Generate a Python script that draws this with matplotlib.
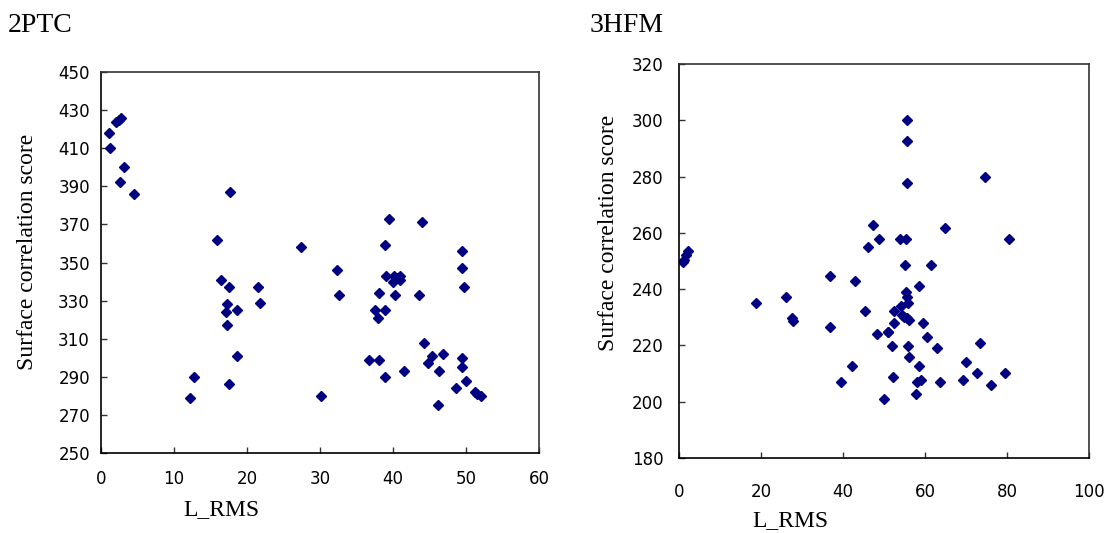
import numpy as np
import matplotlib.pyplot as plt

# 2PTC : L_RMS vs surface correlation score
ptc_rms = [1.1, 1.2, 2.0, 2.4, 2.8, 3.1, 2.6, 4.5, 17.7, 15.9, 27.4,
           32.3, 32.6, 16.4, 17.5, 21.5, 21.8, 17.3, 17.1, 18.6, 17.3,
           18.6, 12.7, 17.5, 12.2, 30.1,
           39.4, 44.0, 38.9, 49.4, 49.4, 49.7, 39.0, 40.1, 41.0, 40.0,
           41.0, 40.6, 38.1, 40.3, 43.6, 37.6, 38.9, 38.0, 36.7, 38.1,
           38.9, 41.5, 44.3, 45.4, 46.8, 44.8, 46.3, 49.4, 49.5, 50.0,
           48.6, 51.2, 51.5, 52.0, 46.1]
ptc_score = [418, 410, 424, 425, 426, 400, 392, 386, 387, 362, 358,
             346, 333, 341, 337, 337, 329, 328, 324, 325, 317,
             301, 290, 286, 279, 280,
             373, 371, 359, 356, 347, 337, 343, 343, 343, 340,
             341, 342, 334, 333, 333, 325, 325, 321, 299, 299,
             290, 293, 308, 301, 302, 297, 293, 300, 295, 288,
             284, 282, 281, 280, 275]

# 3HFM
hfm_rms = [0.9, 1.1, 1.7, 2.3, 47.2, 48.8, 46.0, 18.9, 26.2, 27.5, 27.9,
           36.8, 42.9, 36.8, 45.4, 48.2, 50.9, 42.3, 39.5, 50.0,
           55.6, 55.6, 55.6, 74.6, 64.9, 53.9, 55.4, 80.5, 55.0, 61.4,
           58.6, 55.3, 55.7, 55.9, 54.1, 52.5, 54.3, 54.9, 55.5, 56.2,
           52.5, 59.6, 51.0, 60.5, 51.9, 55.9, 63.0, 73.4, 56.2, 58.6,
           70.0, 52.1, 72.6, 79.6, 59.0, 58.0, 63.6, 69.2, 76.0, 57.8]
hfm_score = [249.6, 250.4, 252.2, 253.6, 262.7, 257.7, 255.0, 234.9, 237.1, 229.9, 228.8,
             244.7, 242.9, 226.7, 232.1, 224.0, 224.9, 212.7, 206.9, 201.0,
             300.0, 292.8, 277.8, 279.8, 261.8, 257.7, 257.7, 257.7, 248.7, 248.7,
             241.0, 239.1, 237.1, 234.9, 233.9, 232.3, 230.8, 230.2, 229.9, 228.9,
             228.0, 228.0, 224.9, 223.1, 219.9, 219.9, 219.0, 220.9, 215.9, 212.8,
             214.1, 208.8, 210.1, 210.1, 207.7, 206.9, 207.0, 207.7, 206.0, 202.9]

W, H = 1106, 533
fig = plt.figure(figsize=(W / 100, H / 100), dpi=100)

serif = ['Liberation Serif', 'DejaVu Serif']
narrow = ['Liberation Sans Narrow', 'DejaVu Sans']
navy = '#000080'


def px(x, y):
    return x / W, 1 - y / H


def setup(ax, xlim, xstep, ylim, ystep, xpad, ypad):
    ax.plot(*ax._data, ls='none', marker='D', ms=5.5, color=navy, mec=navy)
    ax.set_xlim(*xlim)
    ax.set_ylim(*ylim)
    ax.set_xticks(np.arange(xlim[0], xlim[1] + 1, xstep))
    ax.set_yticks(np.arange(ylim[0], ylim[1] + 1, ystep))
    ax.tick_params(direction='in', length=4, width=1, color='#333333')
    ax.tick_params(axis='x', pad=xpad)
    ax.tick_params(axis='y', pad=ypad)
    for lab in ax.get_xticklabels() + ax.get_yticklabels():
        lab.set_family(narrow)
        lab.set_fontsize(12)
    for sp in ax.spines.values():
        sp.set_linewidth(1.2)
        sp.set_color('#333333')
    ax.spines['left'].set_color('black')
    ax.spines['bottom'].set_color('black')


ax1 = fig.add_axes([101 / W, 1 - 453 / H, 438 / W, 381 / H])
ax1._data = (ptc_rms, ptc_score)
setup(ax1, (0, 60), 10, (250, 450), 20, 12, 8)

ax2 = fig.add_axes([679 / W, 1 - 458 / H, 410 / W, 394 / H])
ax2._data = (hfm_rms, hfm_score)
setup(ax2, (0, 100), 20, (180, 320), 20, 18, 11)

fig.text(*px(8, 25), '2PTC', family=serif, fontsize=20, va='center', ha='left')
fig.text(*px(590, 25), '3HFM', family=serif, fontsize=20, va='center', ha='left')

fig.text(*px(28, 252), 'Surface correlation score', family=serif, fontsize=17,
         rotation=90, va='center', ha='center')
fig.text(*px(608, 233), 'Surface correlation score', family=serif, fontsize=17,
         rotation=90, va='center', ha='center')

fig.text(*px(221, 510), 'L_RMS', family=serif, fontsize=17, va='center', ha='center')
fig.text(*px(790, 521), 'L_RMS', family=serif, fontsize=17, va='center', ha='center')

fig.savefig('out.png', dpi=100, facecolor='white')
